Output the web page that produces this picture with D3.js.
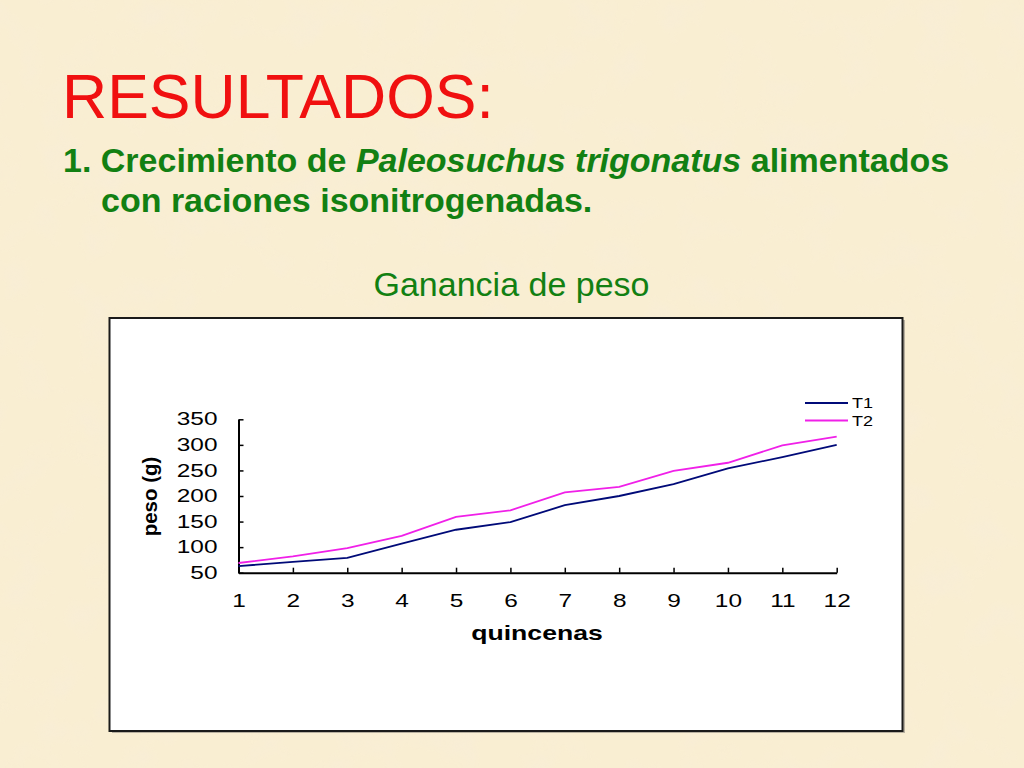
<!DOCTYPE html>
<html>
<head>
<meta charset="utf-8">
<script src="https://cdn.jsdelivr.net/npm/d3@7"></script>
<style>
  html, body { margin: 0; padding: 0; background: #f7eac8; }
  svg { display: block; }
  text { font-family: "Liberation Sans", Arial, Helvetica, sans-serif; }
</style>
</head>
<body>
<script>
// weeks (quincenas) and weight series
var quincenas = [1, 2, 3, 4, 5, 6, 7, 8, 9, 10, 11, 12];
var t1 = [63, 71, 79, 107, 134, 149, 182, 200, 223, 254, 276, 300];
var t2 = [69, 82, 98, 122, 159, 172, 207, 218, 249, 265, 299, 316];
var yTicks = [50, 100, 150, 200, 250, 300, 350];
var series = [
    { name: 'T1', values: t1, color: '#000a78' },
    { name: 'T2', values: t2, color: '#f020e8' }
];

var width = 1024, height = 768;
var stretch = 1.38; // the chart text in the picture is widened

var svg = d3.select('body').append('svg')
    .attr('width', width)
    .attr('height', height);

// parchment background
var defs = svg.append('defs');
var paper = defs.append('filter')
    .attr('id', 'paper')
    .attr('x', 0).attr('y', 0).attr('width', '100%').attr('height', '100%');
paper.append('feTurbulence')
    .attr('type', 'fractalNoise')
    .attr('baseFrequency', 0.025)
    .attr('numOctaves', 4)
    .attr('seed', 7)
    .attr('result', 'noise');
paper.append('feColorMatrix')
    .attr('in', 'noise')
    .attr('type', 'matrix')
    .attr('values', '0 0 0 0 0.93  0 0 0 0 0.84  0 0 0 0 0.72  0 0 0 -1.5 0.78');

svg.append('rect')
    .attr('width', width).attr('height', height)
    .attr('fill', '#f9eed2');
svg.append('rect')
    .attr('width', width).attr('height', height)
    .attr('filter', 'url(#paper)')
    .attr('opacity', 0.6);

// heading
svg.append('text')
    .attr('x', 62).attr('y', 118)
    .attr('font-size', 62.5)
    .attr('fill', '#f01010')
    .text('RESULTADOS:');

var sub = svg.append('text')
    .attr('x', 63).attr('y', 172)
    .attr('font-size', 34)
    .attr('font-weight', 'bold')
    .attr('fill', '#128012');
sub.append('tspan').text('1. Crecimiento de ');
sub.append('tspan').attr('font-style', 'italic').text('Paleosuchus trigonatus');
sub.append('tspan').text(' alimentados');

svg.append('text')
    .attr('x', 101).attr('y', 212)
    .attr('font-size', 34)
    .attr('font-weight', 'bold')
    .attr('fill', '#128012')
    .text('con raciones isonitrogenadas.');

svg.append('text')
    .attr('x', 511.5).attr('y', 296)
    .attr('text-anchor', 'middle')
    .attr('font-size', 34)
    .attr('fill', '#128012')
    .text('Ganancia de peso');

// chart frame
svg.append('rect')
    .attr('x', 112).attr('y', 320)
    .attr('width', 793).attr('height', 413)
    .attr('fill', '#b8b0a0');
svg.append('rect')
    .attr('x', 109.5).attr('y', 318)
    .attr('width', 793).attr('height', 413)
    .attr('fill', '#ffffff')
    .attr('stroke', '#1a1a1a')
    .attr('stroke-width', 2);

var x = d3.scaleLinear().domain([1, 12]).range([238.5, 836.7]);
var y = d3.scaleLinear().domain([50, 350]).range([572.7, 419.3]);

var xAxis = d3.axisBottom(x)
    .tickValues(quincenas)
    .tickFormat(d3.format('d'))
    .tickSize(-5)
    .tickSizeOuter(0)
    .tickPadding(22);

var yAxis = d3.axisLeft(y)
    .tickValues(yTicks)
    .tickSize(-5)
    .tickSizeOuter(0)
    .tickPadding(21);

function styleAxis(g) {
    g.select('.domain').attr('stroke', '#000').attr('stroke-width', 2);
    g.selectAll('.tick line').attr('stroke', '#000').attr('stroke-width', 1.5);
    g.selectAll('.tick text')
        .attr('fill', '#000')
        .style('font-family', '"Liberation Sans", Arial, sans-serif')
        .style('font-size', '17.7px')
        .attr('transform', function () {
            var x0 = +d3.select(this).attr('x') || 0;
            return 'translate(' + x0 + ',0) scale(' + stretch + ',1) translate(' + (-x0) + ',0)';
        });
}

svg.append('g')
    .attr('transform', 'translate(0,' + y(50) + ')')
    .call(xAxis)
    .call(styleAxis);

svg.append('g')
    .attr('transform', 'translate(' + x(1) + ',0)')
    .call(yAxis)
    .call(styleAxis);

// axis titles
svg.append('text')
    .attr('transform', 'translate(157,496.5) rotate(-90)')
    .attr('text-anchor', 'middle')
    .attr('font-size', 20.5)
    .attr('font-weight', 'bold')
    .text('peso (g)');

svg.append('text')
    .attr('transform', 'translate(537,640) scale(1.33,1)')
    .attr('text-anchor', 'middle')
    .attr('font-size', 20)
    .attr('font-weight', 'bold')
    .text('quincenas');

// lines
var line = d3.line()
    .x(function (d, i) { return x(quincenas[i]); })
    .y(function (d) { return y(d); });

svg.selectAll('path.serie')
    .data(series)
    .enter()
    .append('path')
    .classed('serie', true)
    .attr('d', function (d) { return line(d.values); })
    .attr('fill', 'none')
    .attr('stroke', function (d) { return d.color; })
    .attr('stroke-width', 1.8);

// legend
var legend = svg.selectAll('g.legend')
    .data(series)
    .enter()
    .append('g')
    .classed('legend', true)
    .attr('transform', function (d, i) { return 'translate(805,' + (403 + i * 17.5) + ')'; });

legend.append('line')
    .attr('x1', 0).attr('x2', 43)
    .attr('stroke', function (d) { return d.color; })
    .attr('stroke-width', 1.8);

legend.append('text')
    .attr('transform', 'translate(47,0) scale(1.2,1)')
    .attr('dy', '0.36em')
    .attr('font-size', 15)
    .text(function (d) { return d.name; });
</script>
</body>
</html>
